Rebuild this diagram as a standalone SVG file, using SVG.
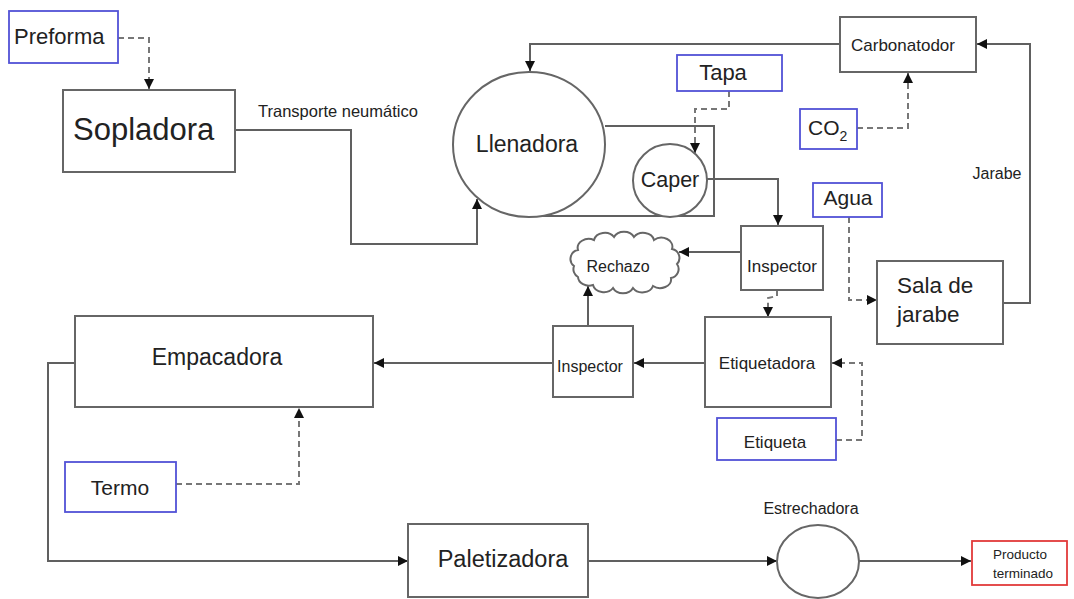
<svg xmlns="http://www.w3.org/2000/svg" width="1074" height="599" viewBox="0 0 1074 599">
<style>
.box{fill:#fff;stroke:#666;stroke-width:2}
.blue{fill:#fff;stroke:#5252d6;stroke-width:1.8}
.red{fill:#fff;stroke:#e23a3a;stroke-width:1.8}
.ln{fill:none;stroke:#606060;stroke-width:2}
.dash{fill:none;stroke:#777;stroke-width:2;stroke-dasharray:6 4}
.t{font-family:"Liberation Sans",Arial,sans-serif;fill:#222;text-anchor:middle}
.s{font-family:"Liberation Sans",Arial,sans-serif;fill:#222}
</style>
<defs>
<marker id="arr" markerUnits="userSpaceOnUse" markerWidth="11" markerHeight="10" refX="10" refY="5" orient="auto">
<path d="M0,0 L10,5 L0,10 z" fill="#111"/>
</marker>
</defs>
<rect width="1074" height="599" fill="#fff"/>

<g id="connectors">
<path class="dash" d="M118,38 H149 V89" marker-end="url(#arr)"/>
<path class="ln" d="M235,130 H351 V244 H477 V199" marker-end="url(#arr)"/>
<path class="ln" d="M840,44 H530 V71" marker-end="url(#arr)"/>
<path class="ln" d="M605,126 H714 V216 H543"/>
<path class="dash" d="M729,91 V109 H695 V153" marker-end="url(#arr)"/>
<path class="dash" d="M857,128 H908 V73" marker-end="url(#arr)"/>
<path class="ln" d="M1003,303 H1030 V44 H977" marker-end="url(#arr)"/>
<path class="dash" d="M849,217 V300 H877" marker-end="url(#arr)"/>
<path class="ln" d="M707,179 H778 V225" marker-end="url(#arr)"/>
<path class="ln" d="M741,252 H679" marker-end="url(#arr)"/>
<path class="dash" d="M777,290 V296 L768,298 V317" marker-end="url(#arr)"/>
<path class="dash" d="M836,440 H862 V363 H832" marker-end="url(#arr)"/>
<path class="ln" d="M704,363 H634" marker-end="url(#arr)"/>
<path class="ln" d="M588,326 V286" marker-end="url(#arr)"/>
<path class="ln" d="M553,363 H374" marker-end="url(#arr)"/>
<path class="ln" d="M75,363 H48 V561 H408" marker-end="url(#arr)"/>
<path class="dash" d="M176,484 H299 V408" marker-end="url(#arr)"/>
<path class="ln" d="M588,561 H777" marker-end="url(#arr)"/>
<path class="ln" d="M859,561 H971" marker-end="url(#arr)"/>
</g>

<g id="preforma"><rect class="blue" x="9" y="11" width="109" height="52"/><text class="s" x="14" y="44" font-size="22">Preforma</text></g>
<g id="sopladora"><rect class="box" x="63" y="90" width="172" height="82"/><text class="s" x="73" y="140" font-size="31">Sopladora</text></g>
<text class="s" x="258" y="117" font-size="16.5">Transporte neumático</text>
<g id="llenadora"><ellipse class="box" cx="529" cy="144.5" rx="76" ry="72.5"/><text class="t" x="527" y="152" font-size="23">Llenadora</text></g>
<g id="caper"><ellipse class="box" cx="670" cy="180.5" rx="37" ry="36.5"/><text class="t" x="670" y="187" font-size="21.5">Caper</text></g>
<g id="tapa"><rect class="blue" x="677" y="55" width="105" height="36"/><text class="t" x="723" y="80" font-size="22">Tapa</text></g>
<g id="carbonatodor"><rect class="box" x="840" y="17" width="136" height="55"/><text class="t" x="903" y="51" font-size="17">Carbonatodor</text></g>
<g id="co2"><rect class="blue" x="800" y="109" width="57" height="40"/><text class="s" x="808" y="135" font-size="21">CO<tspan font-size="14" dy="6">2</tspan></text></g>
<text class="t" x="997" y="179" font-size="16">Jarabe</text>
<g id="agua"><rect class="blue" x="813" y="183" width="69" height="34"/><text class="t" x="848" y="205" font-size="21">Agua</text></g>
<g id="sala"><rect class="box" x="877" y="261" width="126" height="83"/><text class="s" x="897" y="293" font-size="22.5">Sala de</text><text class="s" x="897" y="322" font-size="22.5">jarabe</text></g>
<g id="inspector1"><rect class="box" x="741" y="226" width="82" height="64"/><text class="t" x="782" y="272" font-size="17">Inspector</text></g>
<g id="rechazo"><path class="box" d="M574,266 a9,9 0 0 1 4,-16 a11,9 0 0 1 16,-10 a11,9 0 0 1 20,-3 a11,9 0 0 1 20,0 a11,9 0 0 1 20,3 a11,9 0 0 1 18,9 a9,9 0 0 1 5,15 a9,9 0 0 1 -6,14 a11,9 0 0 1 -18,8 a11,9 0 0 1 -20,2 a11,9 0 0 1 -20,0 a11,9 0 0 1 -20,-3 a11,9 0 0 1 -15,-8 a9,9 0 0 1 -4,-11 z"/><text class="t" x="618" y="272" font-size="16">Rechazo</text></g>
<g id="etiquetadora"><rect class="box" x="705" y="317" width="126" height="90"/><text class="t" x="767" y="369" font-size="17">Etiquetadora</text></g>
<g id="inspector2"><rect class="box" x="553" y="326" width="80" height="71"/><text class="t" x="590" y="372" font-size="16">Inspector</text></g>
<g id="etiqueta"><rect class="blue" x="717" y="418" width="119" height="42"/><text class="t" x="775" y="448" font-size="17">Etiqueta</text></g>
<g id="empacadora"><rect class="box" x="75" y="316" width="298" height="91"/><text class="t" x="217" y="365" font-size="23">Empacadora</text></g>
<g id="termo"><rect class="blue" x="65" y="462" width="111" height="50"/><text class="t" x="120" y="495" font-size="21">Termo</text></g>
<g id="paletizadora"><rect class="box" x="408" y="524" width="180" height="73"/><text class="t" x="503" y="567" font-size="23.5">Paletizadora</text></g>
<g id="estrechadora"><ellipse class="box" cx="818" cy="561.5" rx="41" ry="36.5"/><text class="t" x="811" y="514" font-size="16">Estrechadora</text></g>
<g id="producto"><rect class="red" x="972" y="541" width="95" height="44"/><text class="s" x="993" y="559" font-size="13.5">Producto</text><text class="s" x="993" y="578" font-size="13.5">terminado</text></g>
</svg>
